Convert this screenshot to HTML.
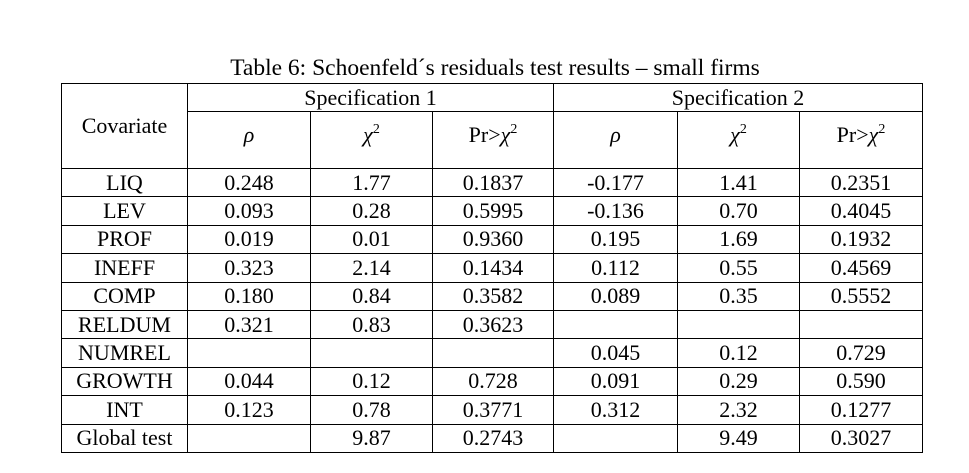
<!DOCTYPE html>
<html><head><meta charset="utf-8"><style>
body{margin:0;width:969px;height:473px;background:#fff;overflow:hidden;font-family:"Liberation Serif",serif;color:#000}
.title{position:absolute;left:0;width:990px;top:55px;text-align:center;font-size:23.5px}
table{position:absolute;left:61px;top:83px;border-collapse:collapse;table-layout:fixed}
td{border:1.5px solid #000;padding:0;text-align:center;font-size:22px;line-height:22px;height:27.4px;vertical-align:middle;overflow:hidden}
td.cov{vertical-align:middle}
tr.h2 td{height:44px;vertical-align:top;padding-top:12px}
i{font-style:italic}
sup{font-size:14px;vertical-align:9px;line-height:0}
</style></head><body>
<div class="title">Table 6: Schoenfeld´s residuals test results – small firms</div>
<table>
<colgroup><col style="width:126px"><col style="width:123px"><col style="width:122px"><col style="width:121px"><col style="width:124px"><col style="width:122px"><col style="width:123px"></colgroup>
<tr><td rowspan="2" class="cov">Covariate</td><td colspan="3" style="line-height:20px;height:27px">Specification 1</td><td colspan="3" style="line-height:20px;height:27px">Specification 2</td></tr>
<tr class="h2"><td><i>ρ</i></td><td><i>χ</i><sup>2</sup></td><td>Pr&gt;<i>χ</i><sup>2</sup></td><td><i>ρ</i></td><td><i>χ</i><sup>2</sup></td><td>Pr&gt;<i>χ</i><sup>2</sup></td></tr>
<tr><td>LIQ</td><td>0.248</td><td>1.77</td><td>0.1837</td><td>-0.177</td><td>1.41</td><td>0.2351</td></tr>
<tr><td>LEV</td><td>0.093</td><td>0.28</td><td>0.5995</td><td>-0.136</td><td>0.70</td><td>0.4045</td></tr>
<tr><td>PROF</td><td>0.019</td><td>0.01</td><td>0.9360</td><td>0.195</td><td>1.69</td><td>0.1932</td></tr>
<tr><td>INEFF</td><td>0.323</td><td>2.14</td><td>0.1434</td><td>0.112</td><td>0.55</td><td>0.4569</td></tr>
<tr><td>COMP</td><td>0.180</td><td>0.84</td><td>0.3582</td><td>0.089</td><td>0.35</td><td>0.5552</td></tr>
<tr><td>RELDUM</td><td>0.321</td><td>0.83</td><td>0.3623</td><td></td><td></td><td></td></tr>
<tr><td>NUMREL</td><td></td><td></td><td></td><td>0.045</td><td>0.12</td><td>0.729</td></tr>
<tr><td>GROWTH</td><td>0.044</td><td>0.12</td><td>0.728</td><td>0.091</td><td>0.29</td><td>0.590</td></tr>
<tr><td>INT</td><td>0.123</td><td>0.78</td><td>0.3771</td><td>0.312</td><td>2.32</td><td>0.1277</td></tr>
<tr><td>Global test</td><td></td><td>9.87</td><td>0.2743</td><td></td><td>9.49</td><td>0.3027</td></tr>
</table>
</body></html>
